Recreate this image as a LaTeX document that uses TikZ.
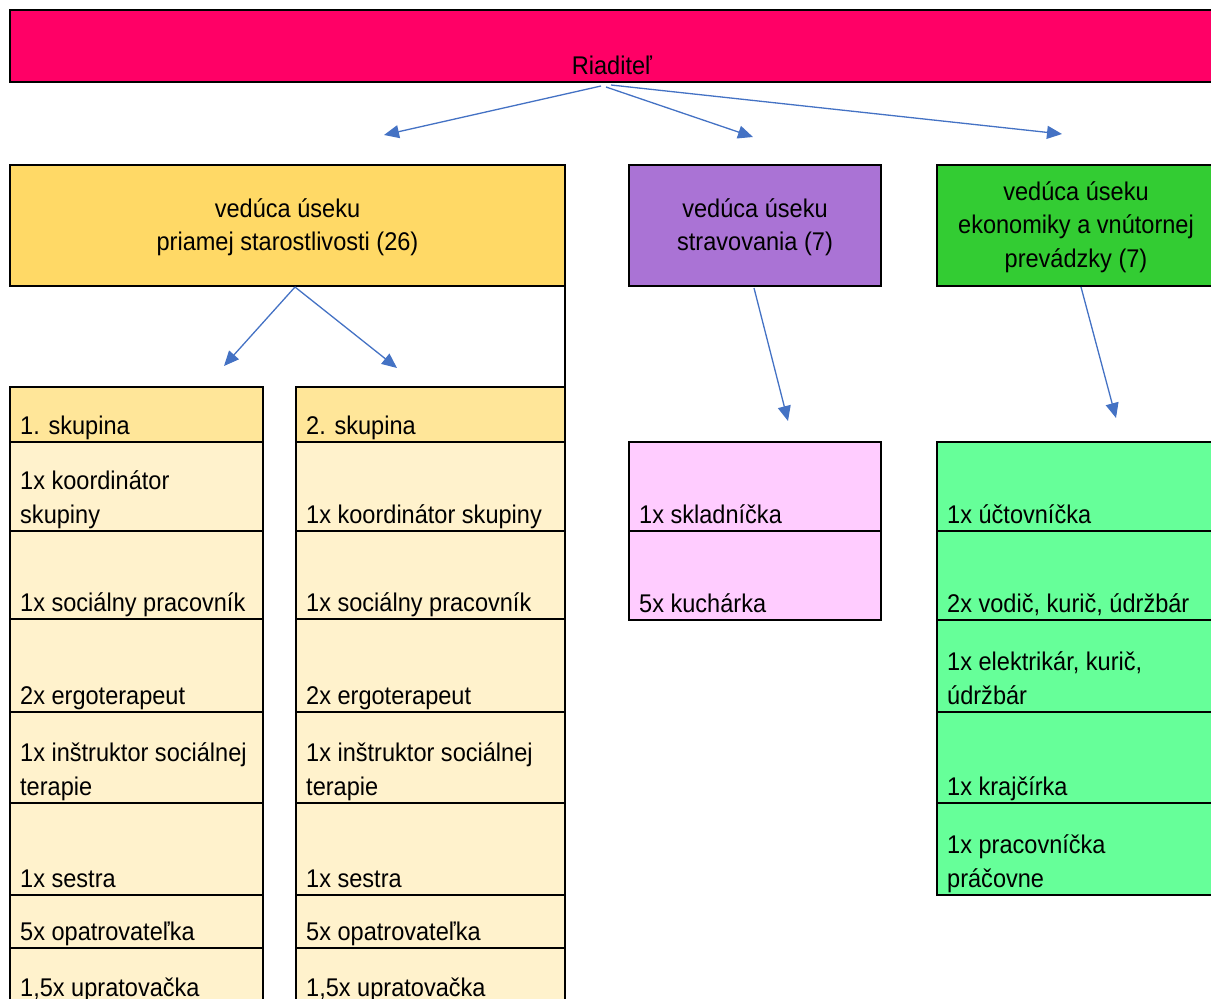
\documentclass[tikz,border=0pt]{standalone}
\usepackage{fontspec}
\setmainfont{Liberation Sans}[FakeStretch=0.92]
\usetikzlibrary{arrows.meta}
\definecolor{riadc}{HTML}{FF0066}
\definecolor{yhead}{HTML}{FFD966}
\definecolor{phead}{HTML}{AA73D5}
\definecolor{ghead}{HTML}{33CC33}
\definecolor{ygroup}{HTML}{FFE699}
\definecolor{ycell}{HTML}{FFF2CC}
\definecolor{pcell}{HTML}{FFCCFF}
\definecolor{gcell}{HTML}{66FF99}
\definecolor{arrowblue}{HTML}{4472C4}
\newcommand{\cellfont}{\fontsize{25.6}{33.5}\selectfont}
\newcommand{\orgrow}[7]{%
  \draw[cellframe, fill=#6] (#2,#3) rectangle (#4,#5);
  \node[celltext] (#1) at ([xshift=10pt,yshift=8pt]#2,#5) {\parbox[b]{250pt}{\raggedright #7}};
}
\begin{document}
\begin{tikzpicture}[x=1pt,y=-1pt,
  cellframe/.style={draw=black, line width=2pt},
  celltext/.style={anchor=base west, inner sep=0pt, font=\cellfont},
  headtext/.style={align=center, inner sep=0pt, font=\cellfont},
  conn/.style={draw=arrowblue, line width=1.3pt, -{Triangle[length=15pt,width=13pt]}}]
\useasboundingbox (0,0) rectangle (1211,999);
\clip (0,0) rectangle (1211,999);

% Director
\draw[cellframe, line width=2.5pt, fill=riadc] (10,10) rectangle (1216,82);
\node[headtext, anchor=base] (riad) at (612,74) {Riaditeľ};

% Section heads
\draw[cellframe, fill=yhead] (10,165) rectangle (565,286);
\node[headtext] (hy) at (287.5,227) {vedúca úseku\\priamej starostlivosti (26)};
\draw[cellframe, fill=phead] (629,165) rectangle (881,286);
\node[headtext] (hp) at (755,227) {vedúca úseku\\stravovania (7)};
\draw[cellframe, fill=ghead] (937,165) rectangle (1216,286);
\node[headtext] (hg) at (1076,227) {vedúca úseku\\ekonomiky a vnútornej\\prevádzky (7)};
\draw[black, line width=2pt] (565,286) -- (565,387);

% Arrows from director
\coordinate (a1s) at (601,86);  \coordinate (a1e) at (384,135);
\coordinate (a2s) at (606,87);  \coordinate (a2e) at (753,137);
\coordinate (a3s) at (611,85);  \coordinate (a3e) at (1062,134);
\draw[conn] (a1s) -- (a1e);
\draw[conn] (a2s) -- (a2e);
\draw[conn] (a3s) -- (a3e);

% Arrows from section heads
\coordinate (b1s) at (295,287); \coordinate (b1e) at (224,366);
\coordinate (b2s) at (295,287); \coordinate (b2e) at (397,368);
\coordinate (c1s) at (754,288); \coordinate (c1e) at (788,421);
\coordinate (d1s) at (1081,287); \coordinate (d1e) at (1116,418);
\draw[conn] (b1s) -- (b1e);
\draw[conn] (b2s) -- (b2e);
\draw[conn] (c1s) -- (c1e);
\draw[conn] (d1s) -- (d1e);

% Group 1
\orgrow{l1}{10}{387}{263}{442}{ygroup}{1. skupina}
\orgrow{l2}{10}{442}{263}{531}{ycell}{1x koordinátor\\skupiny}
\orgrow{l3}{10}{531}{263}{619}{ycell}{1x sociálny pracovník}
\orgrow{l4}{10}{619}{263}{712}{ycell}{2x ergoterapeut}
\orgrow{l5}{10}{712}{263}{803}{ycell}{1x inštruktor sociálnej\\terapie}
\orgrow{l6}{10}{803}{263}{895}{ycell}{1x sestra}
\orgrow{l7}{10}{895}{263}{948}{ycell}{5x opatrovateľka}
\orgrow{l8}{10}{948}{263}{1004}{ycell}{1,5x upratovačka}

% Group 2
\orgrow{r1}{296}{387}{565}{442}{ygroup}{2. skupina}
\orgrow{r2}{296}{442}{565}{531}{ycell}{1x koordinátor skupiny}
\orgrow{r3}{296}{531}{565}{619}{ycell}{1x sociálny pracovník}
\orgrow{r4}{296}{619}{565}{712}{ycell}{2x ergoterapeut}
\orgrow{r5}{296}{712}{565}{803}{ycell}{1x inštruktor sociálnej\\terapie}
\orgrow{r6}{296}{803}{565}{895}{ycell}{1x sestra}
\orgrow{r7}{296}{895}{565}{948}{ycell}{5x opatrovateľka}
\orgrow{r8}{296}{948}{565}{1004}{ycell}{1,5x upratovačka}

% Catering
\orgrow{p1}{629}{442}{881}{531}{pcell}{1x skladníčka}
\orgrow{p2}{629}{531}{881}{620}{pcell}{5x kuchárka}

% Economy
\orgrow{g1}{937}{442}{1216}{531}{gcell}{1x účtovníčka}
\orgrow{g2}{937}{531}{1216}{620}{gcell}{2x vodič, kurič, údržbár}
\orgrow{g3}{937}{620}{1216}{712}{gcell}{1x elektrikár, kurič,\\údržbár}
\orgrow{g4}{937}{712}{1216}{803}{gcell}{1x krajčírka}
\orgrow{g5}{937}{803}{1216}{895}{gcell}{1x pracovníčka\\práčovne}
\end{tikzpicture}
\end{document}
